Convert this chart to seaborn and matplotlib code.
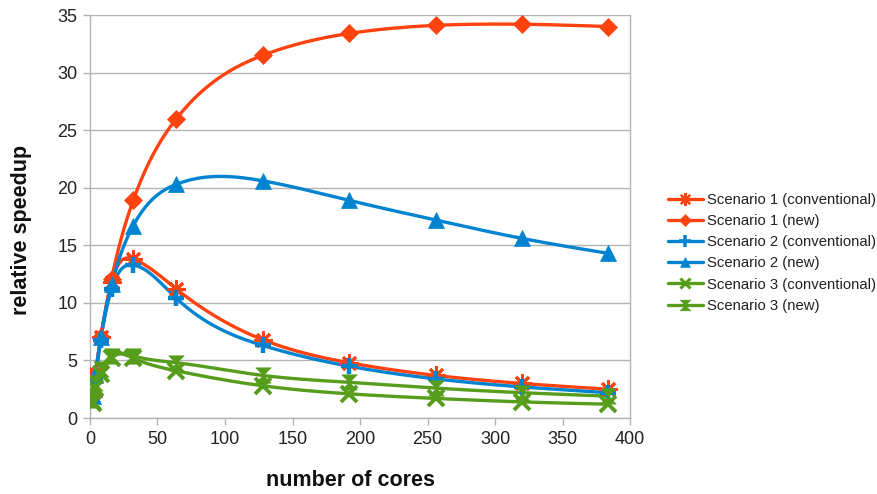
import numpy as np
import pandas as pd
import matplotlib
matplotlib.use("Agg")
import matplotlib.pyplot as plt
from matplotlib.path import Path
from matplotlib.lines import Line2D
import seaborn as sns

# Number of cores used in each run
cores = [2, 4, 8, 16, 32, 64, 128, 192, 256, 320, 384]

# Relative speedup per scenario
s1_conventional = [1.9, 3.8, 7.0, 11.8, 13.8, 11.2, 6.8, 4.8, 3.7, 3.0, 2.5]
s1_new = [1.9, 3.8, 7.0, 12.1, 18.9, 26.0, 31.5, 33.4, 34.1, 34.2, 34.0]
s2_conventional = [1.8, 3.5, 6.8, 11.2, 13.3, 10.4, 6.3, 4.5, 3.4, 2.7, 2.2]
s2_new = [1.9, 3.7, 7.0, 11.6, 16.7, 20.3, 20.6, 18.9, 17.2, 15.6, 14.3]
s3_conventional = [1.3, 2.6, 3.8, 5.2, 5.2, 4.1, 2.8, 2.1, 1.7, 1.4, 1.2]
s3_new = [1.6, 3.0, 4.3, 5.4, 5.4, 4.8, 3.7, 3.1, 2.6, 2.2, 1.9]

series_names = [
    "Scenario 1 (conventional)",
    "Scenario 1 (new)",
    "Scenario 2 (conventional)",
    "Scenario 2 (new)",
    "Scenario 3 (conventional)",
    "Scenario 3 (new)",
]
series_values = [s1_conventional, s1_new, s2_conventional, s2_new,
                 s3_conventional, s3_new]

ORANGE = "#ff420e"
BLUE = "#0084d1"
GREEN = "#579d1c"
colors = [ORANGE, ORANGE, BLUE, BLUE, GREEN, GREEN]

hourglass = Path([(-1, 1), (1, 1), (-1, -1), (1, -1), (-1, 1)],
                 [Path.MOVETO, Path.LINETO, Path.LINETO, Path.LINETO,
                  Path.CLOSEPOLY])
markers = [(8, 2, 0), "D", "+", "^", "x", hourglass]
msizes = [13, 9, 12, 11, 11, 11]
medges = [2.0, 0.5, 3.2, 0.5, 2.8, 0.5]


def natural_spline(x, y, n=400):
    """Natural cubic spline through (x, y) for a smooth connecting line."""
    x = np.asarray(x, float)
    y = np.asarray(y, float)
    k = len(x)
    h = np.diff(x)
    A = np.zeros((k, k))
    r = np.zeros(k)
    A[0, 0] = A[-1, -1] = 1.0
    for i in range(1, k - 1):
        A[i, i - 1] = h[i - 1]
        A[i, i] = 2 * (h[i - 1] + h[i])
        A[i, i + 1] = h[i]
        r[i] = 6 * ((y[i + 1] - y[i]) / h[i] - (y[i] - y[i - 1]) / h[i - 1])
    m = np.linalg.solve(A, r)
    xs = np.linspace(x[0], x[-1], n)
    idx = np.clip(np.searchsorted(x, xs) - 1, 0, k - 2)
    x0, x1 = x[idx], x[idx + 1]
    y0, y1 = y[idx], y[idx + 1]
    m0, m1 = m[idx], m[idx + 1]
    hh = x1 - x0
    t1 = x1 - xs
    t0 = xs - x0
    ys = (m0 * t1 ** 3 + m1 * t0 ** 3) / (6 * hh) \
        + (y0 / hh - m0 * hh / 6) * t1 + (y1 / hh - m1 * hh / 6) * t0
    return xs, ys


sns.set_theme(style="white")
plt.rcParams["font.family"] = ["Liberation Sans", "DejaVu Sans"]

fig = plt.figure(figsize=(8.77, 4.94), dpi=100)
ax = fig.add_axes([0.1026, 0.1538, 0.6158, 0.8158])

frames = []
for name, vals in zip(series_names, series_values):
    frames.append(pd.DataFrame({"cores": cores, "speedup": vals, "series": name}))
points = pd.concat(frames, ignore_index=True)

legend_handles = []
for name, col, mk, ms, me in zip(series_names, colors, markers, msizes, medges):
    sub = points[points["series"] == name]
    xs, ys = natural_spline(sub["cores"], sub["speedup"])
    curve = pd.DataFrame({"cores": xs, "speedup": ys})
    sns.lineplot(data=curve, x="cores", y="speedup", ax=ax, color=col,
                 linewidth=2.4, sort=False, estimator=None, zorder=3)
    sns.lineplot(data=sub, x="cores", y="speedup", ax=ax, color=col,
                 linestyle="", marker=mk, markersize=ms, markeredgewidth=me,
                 markeredgecolor=col, markerfacecolor=col, estimator=None,
                 zorder=4)
    legend_handles.append(Line2D([0], [0], color=col, linewidth=2.4,
                                 marker=mk, markersize=ms * 0.7,
                                 markeredgewidth=me * 0.8,
                                 markeredgecolor=col, markerfacecolor=col))

ax.set_xlim(0, 400)
ax.set_ylim(0, 35)
ax.set_xticks(np.arange(0, 401, 50))
ax.set_yticks(np.arange(0, 36, 5))
ax.yaxis.grid(True, color="#b3b3b3", linewidth=1.0)
ax.xaxis.grid(False)
ax.set_axisbelow(True)
for side in ["left", "bottom", "right", "top"]:
    ax.spines[side].set_color("#b3b3b3")
    ax.spines[side].set_linewidth(1.0)
ax.spines["top"].set_visible(False)
ax.tick_params(axis="both", which="major", direction="out", length=5,
               width=1, color="#b3b3b3", labelsize=13, labelcolor="#222222",
               bottom=True, left=True, pad=4)

ax.set_xlabel("number of cores", fontsize=15.5, fontweight="bold",
              color="#111111")
ax.set_ylabel("relative speedup", fontsize=15.5, fontweight="bold",
              color="#111111")
ax.xaxis.set_label_coords(0.483, -0.128)
ax.yaxis.set_label_coords(-0.107, 0.466)

fig.legend(legend_handles, series_names, loc="center left",
           bbox_to_anchor=(0.7617, 0.488), frameon=False, fontsize=10.7,
           handlelength=2.35, handletextpad=0.25, labelspacing=0.48,
           borderaxespad=0, borderpad=0, labelcolor="#222222")

fig.savefig("out.png", dpi=100)
